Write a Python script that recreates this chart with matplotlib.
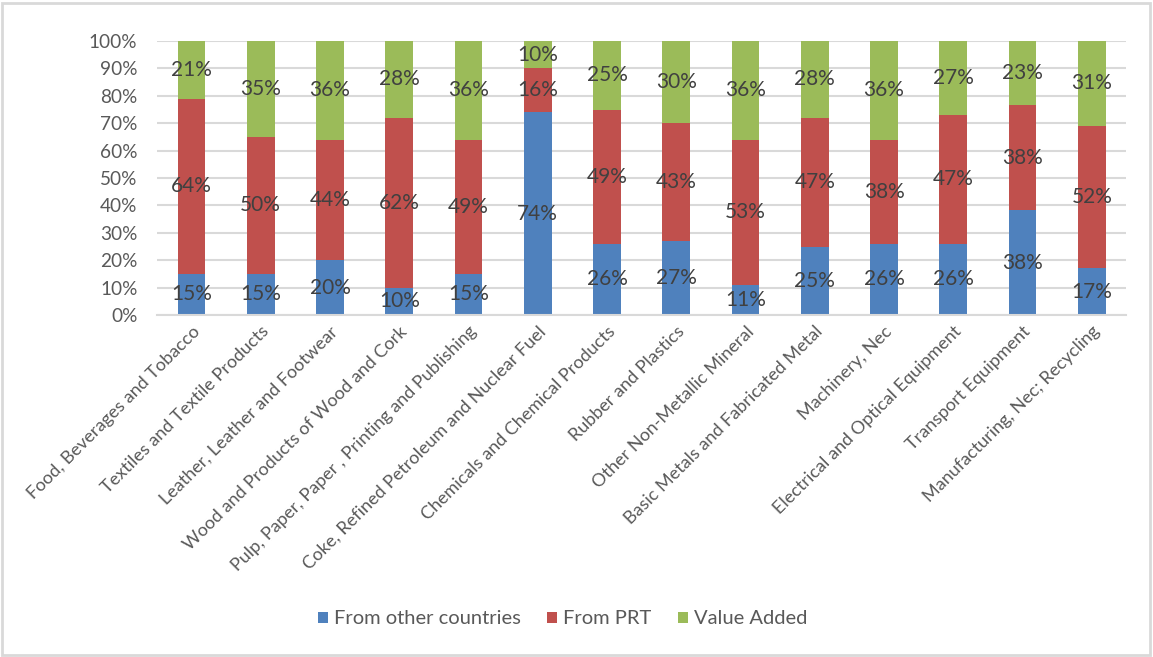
import matplotlib.pyplot as plt
import matplotlib.patches as mpatches
import numpy as np

plt.rcParams['font.family'] = ['Lato', 'DejaVu Sans']

sectors = [
    "Food, Beverages and Tobacco",
    "Textiles and Textile Products",
    "Leather, Leather and Footwear",
    "Wood and Products of Wood and Cork",
    "Pulp, Paper, Paper , Printing and Publishing",
    "Coke, Refined Petroleum and Nuclear Fuel",
    "Chemicals and Chemical Products",
    "Rubber and Plastics",
    "Other Non-Metallic Mineral",
    "Basic Metals and Fabricated Metal",
    "Machinery, Nec",
    "Electrical and Optical Equipment",
    "Transport Equipment",
    "Manufacturing, Nec; Recycling",
]

other_countries = [15, 15, 20, 10, 15, 74, 26, 27, 11, 25, 26, 26, 38.2, 17]
from_prt = [64, 50, 44, 62, 49, 16, 49, 43, 53, 47, 38, 47, 38.4, 52]
value_added = [21, 35, 36, 28, 36, 10, 25, 30, 36, 28, 36, 27, 23.4, 31]

series = [
    ("From other countries", other_countries, "#4F81BD"),
    ("From PRT", from_prt, "#C0504D"),
    ("Value Added", value_added, "#9BBB59"),
]

fig = plt.figure(figsize=(11.53, 6.57), dpi=100)
ax = fig.add_axes([0.136, 0.5205, 0.841, 0.4171])

x = np.arange(len(sectors))
bottom = np.zeros(len(sectors))
for name, vals, col in series:
    vals = np.array(vals, dtype=float)
    ax.bar(x, vals, 0.4, bottom=bottom, color=col, label=name, zorder=2)
    for xi, b, v in zip(x, bottom, vals):
        ax.text(xi, b + v / 2, f"{v:.0f}%", ha='center', va='center',
                fontsize=15, color='#404040', zorder=3)
    bottom += vals

ax.set_xlim(-0.5, len(sectors) - 0.5)
ax.set_ylim(0, 100)
ax.set_yticks(range(0, 101, 10))
ax.set_yticklabels([f"{t}%" for t in range(0, 101, 10)], fontsize=13.7, color='#595959')
ax.yaxis.grid(True, color='#D9D9D9', linewidth=1.5, zorder=0)
ax.set_axisbelow(True)
for s in ['top', 'right', 'left']:
    ax.spines[s].set_visible(False)
ax.spines['bottom'].set_color('#D9D9D9')
ax.spines['bottom'].set_linewidth(1.5)
ax.tick_params(axis='y', length=0, pad=14)
ax.tick_params(axis='x', length=0, pad=6)

ax.set_xticks(x)
ax.set_xticklabels(sectors, rotation=45, ha='right', rotation_mode='anchor',
                   fontsize=13, color='#595959')

fig.legend(loc='center', bbox_to_anchor=(0.488, 0.058), ncol=3, frameon=False,
           fontsize=14.5, handlelength=0.5, handleheight=0.5, columnspacing=1.3,
           handletextpad=0.3, labelcolor='#595959')

fig.patches.append(mpatches.Rectangle((0.002, 0.003), 0.995, 0.993, transform=fig.transFigure,
                                      fill=False, edgecolor='#D9D9D9', linewidth=2))

fig.savefig("out.png", dpi=100)
